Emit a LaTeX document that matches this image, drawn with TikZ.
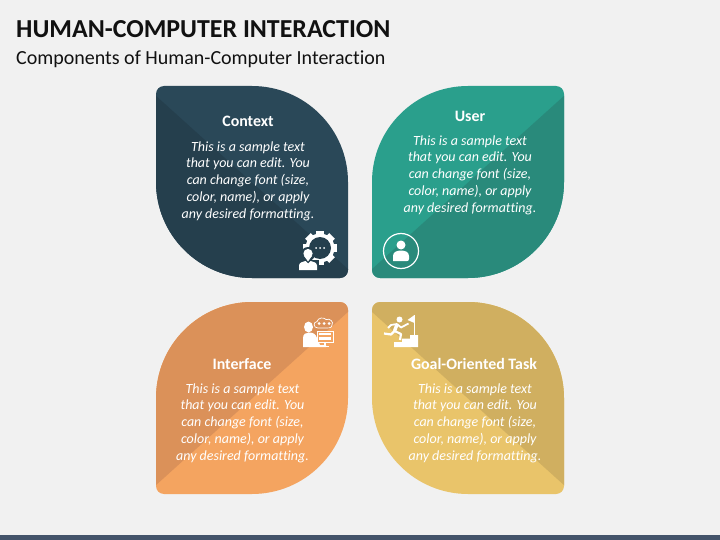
\documentclass[tikz,border=0pt]{standalone}
\usepackage{fontspec}
\setmainfont[Ligatures=NoCommon]{Carlito}
\definecolor{pagebg}{HTML}{F1F1F1}
\definecolor{barcol}{HTML}{44546A}
\definecolor{inkcol}{HTML}{111111}
\definecolor{contextlight}{HTML}{2A4858}
\definecolor{contextdark}{HTML}{253F4D}
\definecolor{userlight}{HTML}{2A9F8C}
\definecolor{userdark}{HTML}{298A7B}
\definecolor{facelight}{HTML}{F4A460}
\definecolor{facedark}{HTML}{DB9159}
\definecolor{goallight}{HTML}{E9C46A}
\definecolor{goaldark}{HTML}{D0AF60}
\newcommand{\leafpath}{(8,0) -- (96,0) .. controls (149,0) and (192,43) .. (192,96) -- (192,184) .. controls (192,188.4) and (188.4,192) .. (184,192) -- (96,192) .. controls (43,192) and (0,149) .. (0,96) -- (0,8) .. controls (0,3.6) and (3.6,0) .. (8,0) -- cycle}
\newcommand{\leaf}[5]{
  \begin{scope}[shift={#1},xscale=#2]
    \fill[#3] \leafpath;
    \begin{scope}
      \clip \leafpath;
      \fill[#4] (-1,9) -- (193,184) -- (193,#5) -- (-1,#5) -- cycle;
    \end{scope}
  \end{scope}
}
\newcommand{\sampletext}{This is a sample text\\that you can edit. You\\can change font (size,\\color, name), or apply\\any desired formatting.}
\tikzset{
  headtext/.style={text=white,font=\fontsize{15.9}{18}\selectfont\bfseries,inner sep=0pt},
  bodytext/.style={text=white,align=center,inner sep=0pt,font=\fontsize{14}{16.8}\selectfont\itshape},
  icon/.style={fill=white,draw=none}
}

\begin{document}
\begin{tikzpicture}[x=1pt,y=-1pt]
    \useasboundingbox (0,0) rectangle (720,540);
    \fill[pagebg] (0,0) rectangle (720,540);
    \fill[barcol] (0,535) rectangle (720,540);

    \node (title) at (16,29) [anchor=west,inner sep=0pt,text=inkcol,font=\fontsize{25.9}{28}\selectfont\bfseries] {HUMAN-COMPUTER INTERACTION};
    \node (subtitle) at (16,59.5) [anchor=west,inner sep=0pt,text=inkcol,font=\fontsize{20}{22}\selectfont] {Components of Human-Computer Interaction};

    \leaf{(156,86)}{1}{contextlight}{contextdark}{200}
    \leaf{(564,86)}{-1}{userlight}{userdark}{200}
    \leaf{(348,302)}{-1}{facelight}{facedark}{-8}
    \leaf{(372,302)}{1}{goallight}{goaldark}{-8}

    \node (h1) at (248,121) [headtext] {Context};
    \node (b1) at (248,181) [bodytext] {\sampletext};
    \node (h2) at (470,116) [headtext] {User};
    \node (b2) at (470,175) [bodytext] {\sampletext};
    \node (h3) at (242,364) [headtext] {Interface};
    \node (b3) at (242.5,423) [bodytext] {\sampletext};
    \node (h4) at (474,364) [headtext] {Goal-Oriented Task};
    \node (b4) at (475,423) [bodytext] {\sampletext};

    % gear with person
    \foreach \a in {0,45,...,315}
      \fill[icon,rotate around={\a:(320,248)}] (316,231) rectangle (324,240);
    \fill[icon] (320,248) circle (14.5);
    \fill[contextdark] (320,248) circle (11);
    \foreach \a in {-4,0,4}
      \fill[icon] (320+\a,248) circle (1);
    \fill[contextdark] (308,254) circle (7);
    \fill[contextdark] (297,260) rectangle (319,272);
    \fill[icon] (308,253.5) circle (4.6);
    \fill[icon] (303.8,255.5) -- (308,261.5) -- (312.2,255.5) -- cycle;
    \fill[icon] (299,270) -- (299,265.5) .. controls (299,262.5) and (303,261.5) .. (305.5,261) -- (308,263.5) -- (310.5,261) .. controls (313,261.5) and (317,262.5) .. (317,265.5) -- (317,270) -- cycle;

    % user in a ring
    \draw[white,line width=1.2pt] (401,251) circle (17.5);
    \fill[icon] (401,245) circle (4.5);
    \fill[icon] (393,261) -- (393,256) .. controls (393,252) and (397,250.5) .. (401,250.5) .. controls (405,250.5) and (409,252) .. (409,256) -- (409,259) .. controls (409,260.5) and (408,261) .. (407,261) -- cycle;

    % person at a screen
    \fill[icon] (308.5,327) ellipse (4.5 and 5.5);
    \fill[icon] (303,347) -- (303,338) .. controls (303,334) and (306,332.5) .. (309,332.5) .. controls (313,332.5) and (316,334) .. (317,338) -- (320,345) -- (326,345) -- (326,347) -- cycle;
    \fill[facelight] (316.5,330.5) rectangle (333.5,342.5);
    \draw[white,line width=0.7pt] (317,331) rectangle (333,342);
    \fill[icon] (319,333) rectangle (331,335);
    \fill[icon] (319,337) rectangle (331,339.5);
    \fill[icon] (324,342) rectangle (326,346);
    \fill[icon] (322,346) rectangle (329,347);
    \draw[white,line width=0.7pt] (318,328) .. controls (313,328) and (313,322) .. (317,321.5) .. controls (318,317.5) and (324,317) .. (326,319.5) .. controls (330,318) and (334,322) .. (332,325) .. controls (332,328) and (328,328.5) .. (326,328) -- cycle;
    \foreach \a in {319,324,329}
      \fill[icon] (\a,323.5) circle (1.5);

    % runner on stairs
    \fill[icon] (394,347) -- (394,342) -- (402,342) -- (402,338.5) -- (410,338.5) -- (410,335) -- (418,335) -- (418,347) -- cycle;
    \draw[white,line width=1pt] (414,335) -- (414,315);
    \fill[icon] (414.5,315) -- (414.5,323) -- (407.5,320) -- cycle;
    \fill[icon] (399.5,319.5) circle (3);
    \draw[white,line width=3.4pt,line join=round] (397,324.5) -- (394.5,331);
    \draw[white,line width=1.8pt,line join=round] (397,324) -- (391,325) -- (388,328);
    \draw[white,line width=1.8pt,line join=round] (397,324) -- (401,327.5) -- (408.5,323.5);
    \draw[white,line width=2.2pt,line join=round] (394.5,331) -- (401,334) -- (400,340);
    \draw[white,line width=2.2pt,line join=round] (394.5,331) -- (391,334.5) -- (384,333.5);
\end{tikzpicture}
\end{document}
